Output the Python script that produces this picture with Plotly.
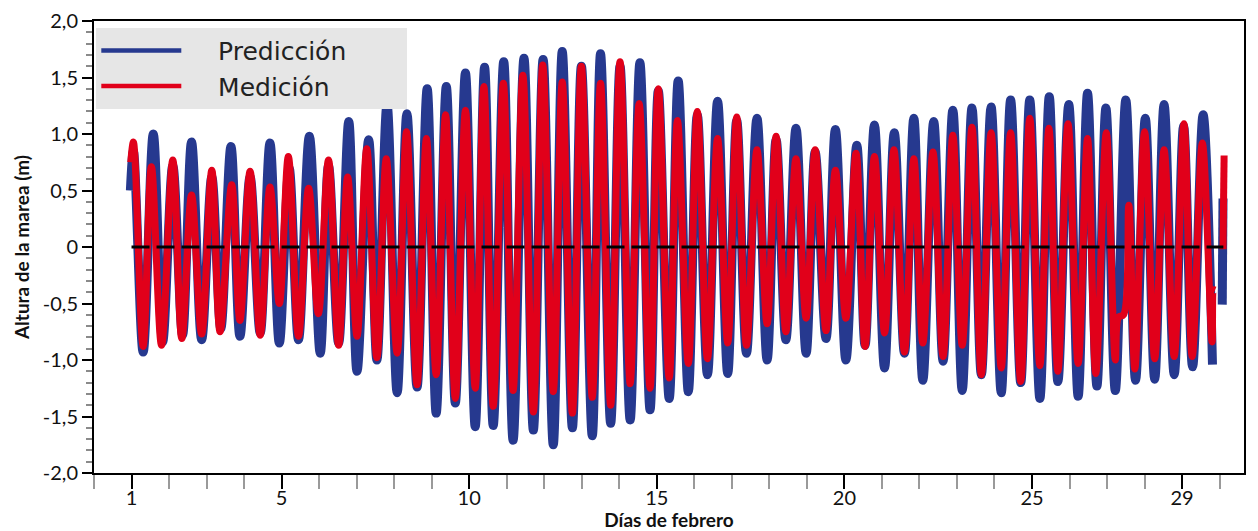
import plotly.graph_objects as go

# ---- Data (tide extremes) ----
pred_days = [0.97, 1.05, 1.31, 1.58, 1.83, 2.10, 2.36, 2.60, 2.87, 3.14, 3.38, 3.65, 3.89, 4.16, 4.43, 4.69,
             4.94, 5.20, 5.45, 5.74, 6.03, 6.25, 6.52, 6.79, 7.01, 7.32, 7.54, 7.81, 8.08, 8.34, 8.61, 8.88,
             9.12, 9.39, 9.63, 9.90, 10.16, 10.41, 10.64, 10.92, 11.17, 11.46, 11.71, 11.97, 12.24, 12.48,
             12.75, 12.99, 13.28, 13.50, 13.77, 14.02, 14.29, 14.55, 14.82, 15.04, 15.33, 15.57, 15.84, 16.08,
             16.35, 16.62, 16.89, 17.13, 17.39, 17.67, 17.94, 18.18, 18.44, 18.71, 18.98, 19.22, 19.51, 19.76,
             20.04, 20.33, 20.55, 20.80, 21.07, 21.33, 21.60, 21.85, 22.09, 22.38, 22.63, 22.89, 23.14, 23.40,
             23.65, 23.91, 24.18, 24.43, 24.70, 24.94, 25.21, 25.46, 25.69, 25.98, 26.23, 26.48, 26.73, 26.97,
             27.22, 27.50, 27.76, 28.02, 28.27, 28.52, 28.79, 29.04, 29.28, 29.56, 29.81, None, 30.07, 30.09]
pred_vals = [0.50, 0.85, -0.93, 1.00, -0.84, 0.72, -0.78, 0.93, -0.82, 0.62, -0.72, 0.89, -0.79, 0.62, -0.76, 0.92,
             -0.85, 0.70, -0.82, 0.98, -0.94, 0.72, -0.85, 1.11, -1.10, 0.95, -1.00, 1.26, -1.29, 1.18, -1.24, 1.40,
             -1.47, 1.42, -1.38, 1.54, -1.59, 1.59, -1.58, 1.64, -1.71, 1.67, -1.62, 1.66, -1.75, 1.73,
             -1.60, 1.60, -1.67, 1.71, -1.56, 1.60, -1.53, 1.63, -1.44, 1.38, -1.34, 1.47, -1.28, 1.17,
             -1.13, 1.29, -1.12, 1.12, -0.94, 1.14, -1.00, 0.95, -0.82, 1.05, -0.94, 0.84, -0.81, 1.04,
             -1.00, 0.90, -0.87, 1.08, -1.07, 1.01, -0.94, 1.14, -1.18, 1.11, -1.01, 1.21, -1.27, 1.23,
             -1.13, 1.24, -1.29, 1.30, -1.20, 1.30, -1.34, 1.33, -1.19, 1.26, -1.32, 1.36, -1.23, 1.23,
             -1.27, 1.30, -1.18, 1.14, -1.17, 1.26, -1.13, 1.07, -1.06, 1.17, -1.04, None, -0.51, 0.43]

med_days = [0.98, 1.05, 1.31, 1.53, 1.80, 2.10, 2.34, 2.60, 2.87, 3.14, 3.36, 3.67, 3.89, 4.16, 4.43, 4.69,
            4.94, 5.18, 5.45, 5.72, 5.98, 6.25, 6.52, 6.76, 7.01, 7.27, 7.54, 7.79, 8.08, 8.33, 8.61, 8.86,
            9.12, 9.37, 9.63, 9.90, 10.16, 10.39, 10.64, 10.91, 11.17, 11.43, 11.71, 11.96, 12.24, 12.48,
            12.75, 12.99, 13.28, 13.50, 13.77, 14.02, 14.29, 14.53, 14.82, 15.04, 15.33, 15.55, 15.84, 16.08,
            16.35, 16.62, 16.89, 17.13, 17.39, 17.67, 17.94, 18.18, 18.44, 18.71, 18.98, 19.22, 19.51, 19.76,
            20.04, 20.31, 20.55, 20.80, 21.07, 21.32, 21.60, 21.85, 22.09, 22.36, 22.63, 22.89, 23.14, 23.40,
            23.65, 23.91, 24.18, 24.43, 24.70, 24.94, 25.21, 25.45, 25.69, 25.96, 26.23, 26.48, 26.70, 26.98,
            27.22, 27.31, 27.44, 27.58, 27.74, 28.00, 28.27, 28.52, 28.79, 29.05, 29.27, 29.54, 29.80, 29.85,
            29.88, None, 30.09, 30.12]
med_vals = [0.75, 0.93, -0.88, 0.71, -0.87, 0.77, -0.81, 0.46, -0.77, 0.68, -0.75, 0.55, -0.65, 0.67, -0.78, 0.53,
            -0.50, 0.80, -0.79, 0.52, -0.59, 0.77, -0.87, 0.62, -0.79, 0.87, -0.98, 0.78, -0.94, 1.02, -1.22, 0.96,
            -1.13, 1.17, -1.34, 1.21, -1.25, 1.42, -1.41, 1.45, -1.27, 1.52, -1.46, 1.61, -1.28, 1.46,
            -1.47, 1.60, -1.33, 1.45, -1.40, 1.64, -1.21, 1.27, -1.25, 1.40, -1.16, 1.12, -1.03, 1.20,
            -0.99, 0.96, -0.85, 1.15, -0.87, 0.86, -0.68, 0.98, -0.75, 0.78, -0.63, 0.86, -0.74, 0.68,
            -0.63, 0.83, -0.88, 0.80, -0.76, 0.86, -0.93, 0.78, -0.85, 0.84, -0.97, 0.99, -0.87, 1.06,
            -1.13, 1.01, -1.07, 1.01, -1.19, 1.14, -1.05, 1.05, -1.10, 1.09, -1.03, 0.96, -1.12, 1.01,
            -1.00, -0.62, -0.60, 0.37, -1.08, 1.02, -0.99, 0.86, -0.97, 1.09, -0.97, 0.92, -0.84, -0.38,
            -0.38, None, -0.02, 0.81]

zero_days = [1.0, 30.1]
zero_vals = [0.0, 0.0]

series_names = ["Predicción", "Medición"]
x_tickvals = [1, 5, 10, 15, 20, 25, 29]
x_ticktext = ["1", "5", "10", "15", "20", "25", "29"]
y_tickvals = [2.0, 1.5, 1.0, 0.5, 0.0, -0.5, -1.0, -1.5, -2.0]
y_ticktext = ["2,0", "1,5", "1,0", "0,5", "0", "-0,5", "-1,0", "-1,5", "-2,0"]

BLUE = "#26398f"
RED = "#e1001a"
TICK_FONT = dict(family="Lato, Open Sans, sans-serif", size=20, color="#111111")
TITLE_FONT = dict(family="Lato, Open Sans, sans-serif", size=19, color="#111111", weight="bold")
NBSP = "\u00a0"

fig = go.Figure()
fig.add_trace(go.Scatter(x=pred_days, y=pred_vals, mode="lines", name=series_names[0], showlegend=False,
                         line=dict(color=BLUE, width=9, shape="spline", smoothing=1.0),
                         connectgaps=False))
fig.add_trace(go.Scatter(x=med_days, y=med_vals, mode="lines", name=series_names[1], showlegend=False,
                         line=dict(color=RED, width=7, shape="spline", smoothing=1.0),
                         connectgaps=False))
fig.add_trace(go.Scatter(x=zero_days, y=zero_vals, mode="lines", showlegend=False,
                         line=dict(color="black", width=3, dash="18px,7px")))
# legend entries (thin sample lines as in the reference legend)
fig.add_trace(go.Scatter(x=[None], y=[None], mode="lines", name=NBSP * 4 + series_names[0] + NBSP * 7,
                         line=dict(color=BLUE, width=4.5)))
fig.add_trace(go.Scatter(x=[None], y=[None], mode="lines", name=NBSP * 4 + series_names[1] + NBSP * 7,
                         line=dict(color=RED, width=4.5)))

# The page body adds an 8 px offset, so the figure is 8 px smaller and margins compensate.
fig.update_layout(
    width=1250, height=523,
    margin=dict(l=86, r=14, t=13, b=58),
    paper_bgcolor="white", plot_bgcolor="white",
    showlegend=True,
    legend=dict(x=0.002, y=0.985, xanchor="left", yanchor="top",
                bgcolor="#e6e6e6", borderwidth=0,
                font=dict(family="DejaVu Sans", size=25, color="#222222"),
                itemwidth=80, tracegroupgap=0),
    xaxis=dict(range=[0, 30.65], tickmode="array", tickvals=x_tickvals, ticktext=x_ticktext,
               ticks="outside", ticklen=14, tickwidth=1.5, tickcolor="black",
               ticklabelstandoff=-8,
               minor=dict(tickmode="linear", tick0=0, dtick=1, ticks="outside", ticklen=14,
                          tickwidth=1.5, tickcolor="#9a9a9a", showgrid=False),
               showline=True, linecolor="black", linewidth=2, mirror=True, automargin=False,
               showgrid=False, zeroline=False, tickfont=TICK_FONT,
               title=dict(text="Días de febrero", font=TITLE_FONT, standoff=4)),
    yaxis=dict(range=[-2, 2], tickmode="array", tickvals=y_tickvals, ticktext=y_ticktext,
               ticks="outside", ticklen=10, tickwidth=1.5, tickcolor="black",
               minor=dict(tickmode="linear", tick0=0, dtick=0.1, ticks="outside", ticklen=6,
                          tickwidth=1.5, tickcolor="#8a8a8a", showgrid=False),
               showline=True, linecolor="black", linewidth=2, mirror=True, automargin=False,
               showgrid=False, zeroline=False, tickfont=TICK_FONT,
               title=dict(text="Altura de la marea (m)", font=TITLE_FONT, standoff=8)),
)

fig.write_html("out.html")
